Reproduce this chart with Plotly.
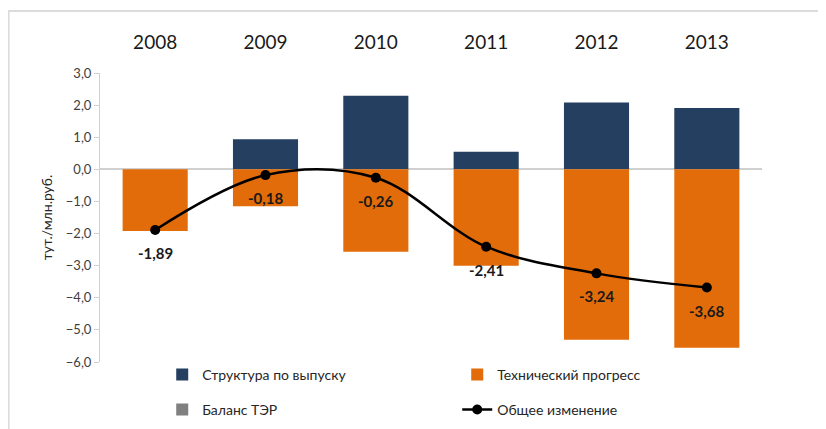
import plotly.graph_objects as go

years = ["2008", "2009", "2010", "2011", "2012", "2013"]
structure = [0.0, 0.94, 2.29, 0.55, 2.08, 1.91]
tech_progress = [-1.92, -1.15, -2.57, -3.00, -5.31, -5.56]
balance_ter = [0.0, 0.0, 0.0, 0.0, 0.0, 0.0]
total_change = [-1.89, -0.18, -0.26, -2.41, -3.24, -3.68]
y_ticks = [3, 2, 1, 0, -1, -2, -3, -4, -5, -6]

FONT = "Lato"
labels = [f"{v:.2f}".replace(".", ",") for v in total_change]

fig = go.Figure()
fig.add_trace(go.Bar(x=years, y=structure, name="Структура по выпуску",
                     marker=dict(color="#243F60", line=dict(width=0)), legend="legend"))
fig.add_trace(go.Bar(x=years, y=tech_progress, name="Технический прогресс",
                     marker=dict(color="#E36C0A", line=dict(width=0)), legend="legend"))
fig.add_trace(go.Bar(x=years, y=balance_ter, name="Баланс ТЭР",
                     marker=dict(color="#808080", line=dict(width=0)), legend="legend2"))
fig.add_trace(go.Scatter(x=years, y=total_change, name="Общее изменение",
                         mode="lines+markers",
                         line=dict(color="#000000", width=2.5, shape="spline", smoothing=1.0),
                         marker=dict(color="#000000", size=10),
                         legend="legend2"))

# category index positions for the data labels (annotations on category axes use indices)
for i, (v, lab) in enumerate(zip(total_change, labels)):
    fig.add_annotation(x=i, y=v, xref="x", yref="y", text=f"<b>{lab}</b>", showarrow=False,
                       yshift=-23, font=dict(family=FONT, size=15, color="#1a1a1a"))

fig.update_layout(
    width=826, height=429,
    margin=dict(l=92, r=72, t=65, b=75, autoexpand=False),
    paper_bgcolor="white", plot_bgcolor="white",
    barmode="relative", bargap=0.41,
    separators=", ",
    font=dict(family=FONT, color="#262626"),
    showlegend=True,
    legend=dict(orientation="h", x=0.094, xanchor="left", y=-0.045, yanchor="middle",
                entrywidth=250, entrywidthmode="pixels",
                font=dict(family=FONT, size=14, color="#262626"), traceorder="normal"),
    legend2=dict(orientation="h", x=0.094, xanchor="left", y=-0.166, yanchor="middle",
                 entrywidth=250, entrywidthmode="pixels",
                 font=dict(family=FONT, size=14, color="#262626"), traceorder="normal"),
    xaxis=dict(type="category", side="top", showline=False, ticks="", showgrid=False,
               range=[-0.5, len(years) - 0.5], automargin=False,
               tickfont=dict(family=FONT, size=19, color="#1a1a1a"),
               ticklabelstandoff=19),
    yaxis=dict(range=[-6, 3], tickvals=y_ticks, tickformat=".1f", automargin=False,
               showgrid=False, showline=True, linecolor="#d0d0d0", linewidth=1,
               ticks="outside", ticklen=5, tickcolor="#d0d0d0",
               zeroline=True, zerolinecolor="#d0d0d0", zerolinewidth=1.5,
               tickfont=dict(family=FONT, size=13, color="#404040"),
               title=dict(text="тут./млн.руб.", font=dict(family=FONT, size=14, color="#262626"),
                          standoff=9)),
    shapes=[dict(type="rect", xref="paper", yref="paper",
                 x0=-0.138, x1=1.12, y0=1.2145, y1=-0.3,
                 line=dict(color="#dcdcdc", width=2), layer="below")],
)

fig.write_html("out.html")
